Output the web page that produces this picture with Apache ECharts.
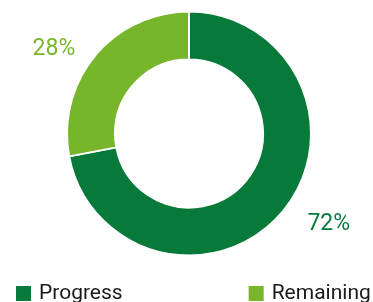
<!DOCTYPE html>
<html><head><meta charset="utf-8">
<script src="https://cdn.jsdelivr.net/npm/echarts@6/dist/echarts.min.js"></script>
<style>html,body{margin:0;padding:0;background:#fff}#c{width:373px;height:302px}</style>
</head><body><div id="c"></div>
<script>
var categories = ['Progress', 'Remaining'];
var values = [72, 28];
var colors = ['#077a3a', '#77b52b'];

var chart = echarts.init(document.getElementById('c'), null, {renderer: 'canvas'});
chart.setOption({
  animation: false,
  legend: {
    top: 283, left: 14, padding: 0, width: 500, height: 40,
    itemWidth: 17, itemHeight: 17, itemGap: 124,
    icon: 'rect',
    textStyle: {fontFamily: 'Roboto', fontSize: 21, color: '#1a1a1a', padding: [0, 0, 0, 2]},
    data: categories
  },
  series: [{
    type: 'pie',
    center: [189, 133.5],
    radius: [74, 122],
    startAngle: 90,
    clockwise: true,
    itemStyle: {borderColor: '#fff', borderWidth: 2},
    label: {
      show: true, position: 'outside',
      formatter: '{d}%', fontFamily: 'Roboto', fontSize: 23,
      color: 'inherit'
    },
    labelLine: {show: false, length: 20, length2: 4},
    data: categories.map(function (c, i) {
      var d = {name: c, value: values[i], itemStyle: {color: colors[i]}, label: {color: colors[i]}};
      if (i === 1) { d.labelLine = {show: false, length: 10, length2: 7}; }
      return d;
    })
  }]
});
</script></body></html>
